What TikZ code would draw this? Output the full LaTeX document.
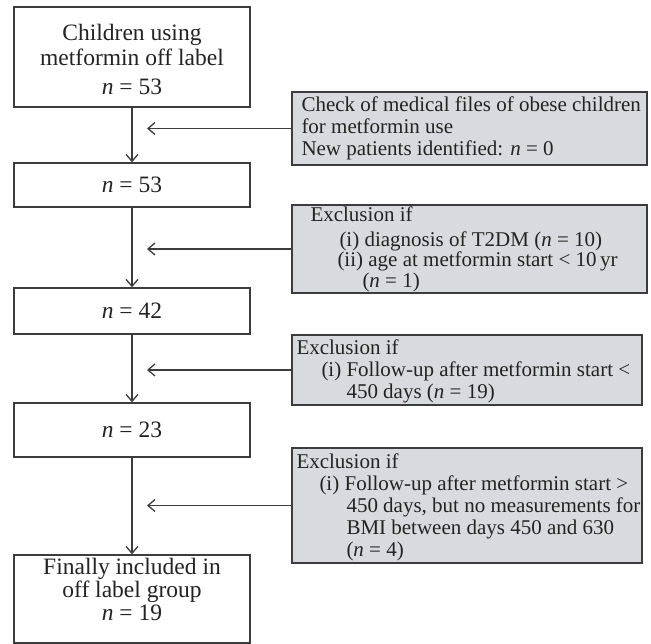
\documentclass[tikz,border=0pt]{standalone}
\usepackage{fontspec}
\setmainfont{Liberation Serif}
\usetikzlibrary{arrows.meta}
\definecolor{boxgray}{RGB}{217,218,221}
\definecolor{linegray}{RGB}{60,60,60}
\definecolor{textcol}{RGB}{35,35,35}
\begin{document}
\begin{tikzpicture}[x=1pt,y=-1pt,
  whitebox/.style={draw=linegray, line width=1.4pt, fill=white, minimum width=236pt,
    align=center, inner sep=0pt, font=\fontsize{23.5}{25}\selectfont, text=textcol},
  graybox/.style={draw=linegray, line width=1.4pt, fill=boxgray, inner sep=0pt},
  graytext/.style={anchor=west, align=left, inner sep=0pt,
    font=\fontsize{21}{22}\selectfont, text=textcol},
  arr/.style={draw=linegray, line width=1.3pt,
    -{Straight Barb[length=7pt,width=12pt,line width=1.3pt]}}]
\useasboundingbox (0,0) rectangle (651,644);
% left column
\node[whitebox, minimum height=100pt] (b1) at (132,57)
  {\rule{0pt}{22pt}Children using\\metformin off label\\[4pt]\textit{n} = 53};
\node[whitebox, minimum height=44pt] (b2) at (132,185) {\textit{n} = 53};
\node[whitebox, minimum height=46pt] (b3) at (132,311) {\textit{n} = 42};
\node[whitebox, minimum height=54pt] (b4) at (132,430) {\textit{n} = 23};
\node[whitebox, minimum height=88pt, font=\fontsize{23.5}{23}\selectfont] (b5) at (132,599)
  {Finally included in\\off label group\\\textit{n} = 19\rule[-20pt]{0pt}{20pt}};
% gray boxes
\node[graybox, minimum width=355pt, minimum height=73pt] (g1) at (469.5,128.5) {};
\node[graytext] (t1) at ([xshift=10pt]g1.west)
  {Check of medical files of obese children\\for metformin use\\New patients identified: \textit{n} = 0};
\node[graybox, minimum width=355pt, minimum height=88pt] (g2) at (469.5,249) {};
\node[graytext, font=\fontsize{21}{20.5}\selectfont] (t2) at ([yshift=-0.5pt]g2.west)
  {\hspace*{19pt}Exclusion if\\[4pt]
   \hspace*{48pt}(i) diagnosis of T2DM (\textit{n} = 10)\\
   \hspace*{46pt}(ii) age at metformin start < 10\,yr\\
   \hspace*{71pt}(\textit{n} = 1)};
\node[graybox, minimum width=350pt, minimum height=70pt] (g3) at (467,370) {};
\node[graytext] (t3) at ([yshift=-1pt]g3.west)
  {\hspace*{5pt}Exclusion if\\
   \hspace*{30pt}(i) Follow-up after metformin start <\\
   \hspace*{55pt}450 days (\textit{n} = 19)};
\node[graybox, minimum width=350pt, minimum height=115pt] (g4) at (467,505.5) {};
\node[graytext] (t4) at ([yshift=-2pt]g4.west)
  {\hspace*{5pt}Exclusion if\\
   \hspace*{28pt}(i) Follow-up after metformin start >\\
   \hspace*{55pt}450 days, but no measurements for\\
   \hspace*{55pt}BMI between days 450 and 630\\
   \hspace*{55pt}(\textit{n} = 4)};
% arrows
\coordinate (tipx) at (147,0);
\draw[arr] (b1.south) -- (b2.north);
\draw[arr] (b2.south) -- (b3.north);
\draw[arr] (b3.south) -- (b4.north);
\draw[arr] (b4.south) -- (b5.north);
\draw[arr] (g1.west) -- (g1.west -| tipx);
\draw[arr] (g2.west) -- (g2.west -| tipx);
\draw[arr] (g3.west) -- (g3.west -| tipx);
\draw[arr] (g4.west) -- (g4.west -| tipx);
\end{tikzpicture}
\end{document}
